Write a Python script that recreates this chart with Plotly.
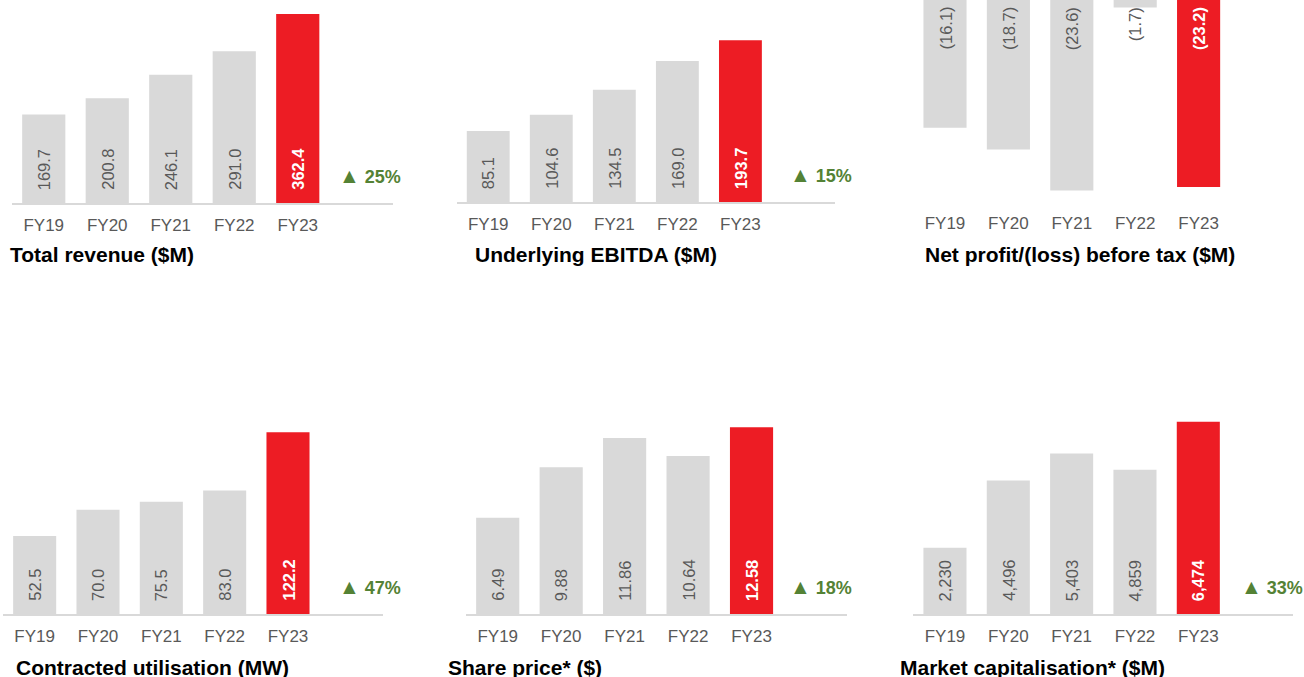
import plotly.graph_objects as go

# ---------------- data ----------------
years = ["FY19", "FY20", "FY21", "FY22", "FY23"]
revenue = [169.7, 200.8, 246.1, 291.0, 362.4]
ebitda = [85.1, 104.6, 134.5, 169.0, 193.7]
npbt = [-16.1, -18.7, -23.6, -1.7, -23.2]
utilisation = [52.5, 70.0, 75.5, 83.0, 122.2]
share_price = [6.49, 9.88, 11.86, 10.64, 12.58]
market_cap = [2230, 4496, 5403, 4859, 6474]

titles = ["Total revenue ($M)", "Underlying EBITDA ($M)", "Net profit/(loss) before tax ($M)",
          "Contracted utilisation (MW)", "Share price* ($)", "Market capitalisation* ($M)"]
growth = ["25%", "15%", None, "47%", "18%", "33%"]


def fmt1(v):
    return f"{v:.1f}"


def fmt_neg(v):
    return f"({abs(v):.1f})" if v < 0 else f"{v:.1f}"


def fmt2(v):
    return f"{v:.2f}"


def fmt_int(v):
    return f"{v:,.0f}"


series = [revenue, ebitda, npbt, utilisation, share_price, market_cap]
formatters = [fmt1, fmt1, fmt_neg, fmt1, fmt2, fmt_int]

# ---------------- layout (pixel geometry) ----------------
W, H = 1304, 677
panels = [
    dict(x0=12, x1=393, yt=0, yb=203, rng=[0, 389.3], line=True, gx=370, title_x=8, title_y=254),
    dict(x0=456.7, x1=835, yt=0, yb=202, rng=[0, 241.9], line=True, gx=821, title_x=473, title_y=254),
    dict(x0=913.3, x1=1293.7, yt=0, yb=205, rng=[-25.35, -0.80], line=False, gx=None, title_x=923, title_y=254),
    dict(x0=3, x1=383, yt=410, yb=614, rng=[0, 137.1], line=True, gx=370, title_x=14, title_y=667),
    dict(x0=466, x1=846.7, yt=410, yb=614, rng=[0, 13.74], line=True, gx=821, title_x=446, title_y=667),
    dict(x0=913.3, x1=1293.3, yt=410, yb=614, rng=[0, 6869], line=True, gx=1272, title_x=898, title_y=667),
]

GRAY = "#d9d9d9"
RED = "#ed1c24"
TXT = "#595959"
GREEN = "#548235"
FONT = "Liberation Sans, Arial, sans-serif"

fig = go.Figure()
annotations = []
layout = dict(
    width=W, height=H,
    margin=dict(l=0, r=0, t=0, b=0),
    paper_bgcolor="white", plot_bgcolor="white",
    showlegend=False,
    font=dict(family=FONT),
)

for k, (p, vals, fm) in enumerate(zip(panels, series, formatters), start=1):
    xs = list(range(len(years)))
    colors = [GRAY] * (len(years) - 1) + [RED]
    fig.add_trace(go.Bar(
        x=xs, y=vals, width=0.68,
        marker=dict(color=colors, line=dict(width=0)),
        xaxis=f"x{k}", yaxis=f"y{k}",
        hoverinfo="skip",
    ))
    sfx = "" if k == 1 else str(k)
    layout[f"xaxis{sfx}"] = dict(
        domain=[p["x0"] / W, p["x1"] / W],
        range=[-0.5, 5.5],
        tickvals=xs, ticktext=years,
        tickfont=dict(size=17, color=TXT, family=FONT),
        showline=p["line"], linecolor=GRAY, linewidth=1.5,
        showgrid=False, zeroline=False,
        ticks="", ticklabelstandoff=6,
        anchor=f"y{k}", fixedrange=True,
    )
    layout[f"yaxis{sfx}"] = dict(
        domain=[1 - p["yb"] / H, 1 - p["yt"] / H],
        range=p["rng"], visible=False, showgrid=False, zeroline=False,
        anchor=f"x{k}", fixedrange=True,
    )
    for i, v in enumerate(vals):
        last = i == len(vals) - 1
        ann = dict(
            xref=f"x{k}", x=i, text=fm(v), textangle=-90, showarrow=False,
            font=dict(size=16.5, color="white" if last else TXT, family=FONT),
        )
        if last:
            ann["text"] = f"<b>{fm(v)}</b>"
        if v >= 0:
            ann.update(yref=f"y{k}", y=0, yanchor="bottom", yshift=11)
        else:
            ann.update(yref=f"y{k} domain", y=1, yanchor="top", yshift=-5)
        annotations.append(ann)
    if growth[k - 1]:
        annotations.append(dict(
            xref="paper", x=p["gx"] / W, yref=f"y{k}", y=0, yanchor="bottom", yshift=14,
            xanchor="center",
            text=f"<b><span style='font-size:21px'>▲</span> {growth[k - 1]}</b>",
            showarrow=False,
            font=dict(size=18, color=GREEN, family=FONT),
        ))
    annotations.append(dict(
        xref="paper", yref="paper", x=p["title_x"] / W, y=1 - p["title_y"] / H,
        xanchor="left", yanchor="middle", text=f"<b>{titles[k - 1]}</b>", showarrow=False,
        font=dict(size=21, color="black", family=FONT),
    ))

layout["annotations"] = annotations
fig.update_layout(**layout)
fig.write_html("out.html", config={"displayModeBar": False, "staticPlot": True})

# remove the default page margin so the figure sits at the window's top-left corner
with open("out.html", encoding="utf-8") as f:
    html = f.read()
html = html.replace("<head>", "<head><style>html,body{margin:0;padding:0;overflow:hidden;}</style>", 1)
with open("out.html", "w", encoding="utf-8") as f:
    f.write(html)
